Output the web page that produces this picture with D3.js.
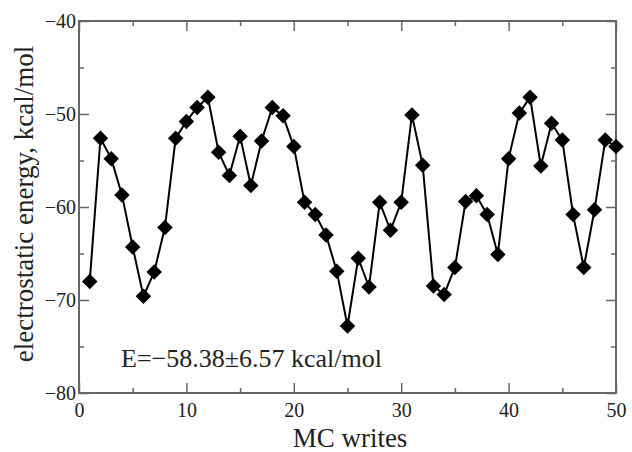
<!DOCTYPE html>
<html>
<head>
<meta charset="utf-8">
<script src="https://cdn.jsdelivr.net/npm/d3@7"></script>
<style>
  body { margin: 0; background: #fff; }
  svg text { font-family: "Liberation Serif", "DejaVu Serif", serif; fill: #222; }
</style>
</head>
<body>
<svg id="chart" width="632" height="452"></svg>
<script>
// ---- Data ----
const steps = d3.range(1, 51);
const energy = [
  -68.0, -52.6, -54.8, -58.7, -64.3, -69.6, -67.0, -62.2, -52.6, -50.8,
  -49.3, -48.2, -54.1, -56.6, -52.4, -57.7, -52.9, -49.3, -50.2, -53.5,
  -59.5, -60.8, -63.0, -66.9, -72.8, -65.5, -68.6, -59.5, -62.5, -59.5,
  -50.1, -55.5, -68.5, -69.4, -66.5, -59.4, -58.8, -60.8, -65.1, -54.8,
  -49.9, -48.2, -55.6, -51.0, -52.8, -60.8, -66.5, -60.3, -52.8, -53.5
];
const xTicks = [0, 10, 20, 30, 40, 50];
const yTicks = [-80, -70, -60, -50, -40];
const annotation = "E=\u221258.38\u00b16.57 kcal/mol";

// ---- Layout ----
const m = {left: 79, right: 16, top: 21, bottom: 59};
const W = 632, H = 452;
const svg = d3.select("#chart");

const x = d3.scaleLinear().domain([0, 50]).range([m.left, W - m.right]);
const y = d3.scaleLinear().domain([-80, -40]).range([H - m.bottom, m.top]);

const frameColor = "#666";
const fmt = d => d < 0 ? "\u2212" + Math.abs(d) : String(d);

// Axes: ticks point inward on all four sides
function styleAxis(g) {
  g.select(".domain").remove();
  g.selectAll("line").attr("stroke", frameColor).attr("stroke-width", 1.5);
  g.selectAll("text").style("font-size", "20px");
}
const xMinor = d3.range(5, 50, 10);
const yMinor = d3.range(-75, -40, 10);

svg.append("g").attr("transform", `translate(0,${H - m.bottom})`)
  .call(d3.axisBottom(x).tickValues(xTicks).tickSize(-10).tickPadding(10).tickFormat(fmt))
  .call(styleAxis);
svg.append("g").attr("transform", `translate(0,${H - m.bottom})`)
  .call(d3.axisBottom(x).tickValues(xMinor).tickSize(-5).tickFormat(""))
  .call(styleAxis);
svg.append("g").attr("transform", `translate(0,${m.top})`)
  .call(d3.axisTop(x).tickValues(xTicks).tickSize(-10).tickFormat(""))
  .call(styleAxis);
svg.append("g").attr("transform", `translate(0,${m.top})`)
  .call(d3.axisTop(x).tickValues(xMinor).tickSize(-5).tickFormat(""))
  .call(styleAxis);

svg.append("g").attr("transform", `translate(${m.left},0)`)
  .call(d3.axisLeft(y).tickValues(yTicks).tickSize(-10).tickPadding(3).tickFormat(fmt))
  .call(styleAxis);
svg.append("g").attr("transform", `translate(${m.left},0)`)
  .call(d3.axisLeft(y).tickValues(yMinor).tickSize(-5).tickFormat(""))
  .call(styleAxis);
svg.append("g").attr("transform", `translate(${W - m.right},0)`)
  .call(d3.axisRight(y).tickValues(yTicks).tickSize(-10).tickFormat(""))
  .call(styleAxis);
svg.append("g").attr("transform", `translate(${W - m.right},0)`)
  .call(d3.axisRight(y).tickValues(yMinor).tickSize(-5).tickFormat(""))
  .call(styleAxis);

// Frame
svg.append("rect")
  .attr("x", m.left).attr("y", m.top)
  .attr("width", W - m.left - m.right).attr("height", H - m.top - m.bottom)
  .attr("fill", "none").attr("stroke", frameColor).attr("stroke-width", 2);

// Line + diamond markers
const pts = steps.map((s, i) => [s, energy[i]]);
svg.append("path")
  .datum(pts)
  .attr("fill", "none").attr("stroke", "#000").attr("stroke-width", 2)
  .attr("d", d3.line().x(d => x(d[0])).y(d => y(d[1])));

const diamond = d3.symbol().type(d3.symbolSquare).size(120);
svg.append("g").selectAll("path")
  .data(pts)
  .join("path")
  .attr("d", diamond)
  .attr("transform", d => `translate(${x(d[0])},${y(d[1])}) rotate(45)`)
  .attr("fill", "#000");

// Labels
svg.append("text")
  .attr("x", 350).attr("y", 447)
  .attr("text-anchor", "middle").style("font-size", "27px")
  .text("MC writes");
svg.append("text")
  .attr("transform", `translate(33,204) rotate(-90)`)
  .attr("text-anchor", "middle").style("font-size", "27px")
  .text("electrostatic energy, kcal/mol");
svg.append("text")
  .attr("x", 121).attr("y", 367)
  .style("font-size", "26px")
  .text(annotation);
</script>
</body>
</html>
